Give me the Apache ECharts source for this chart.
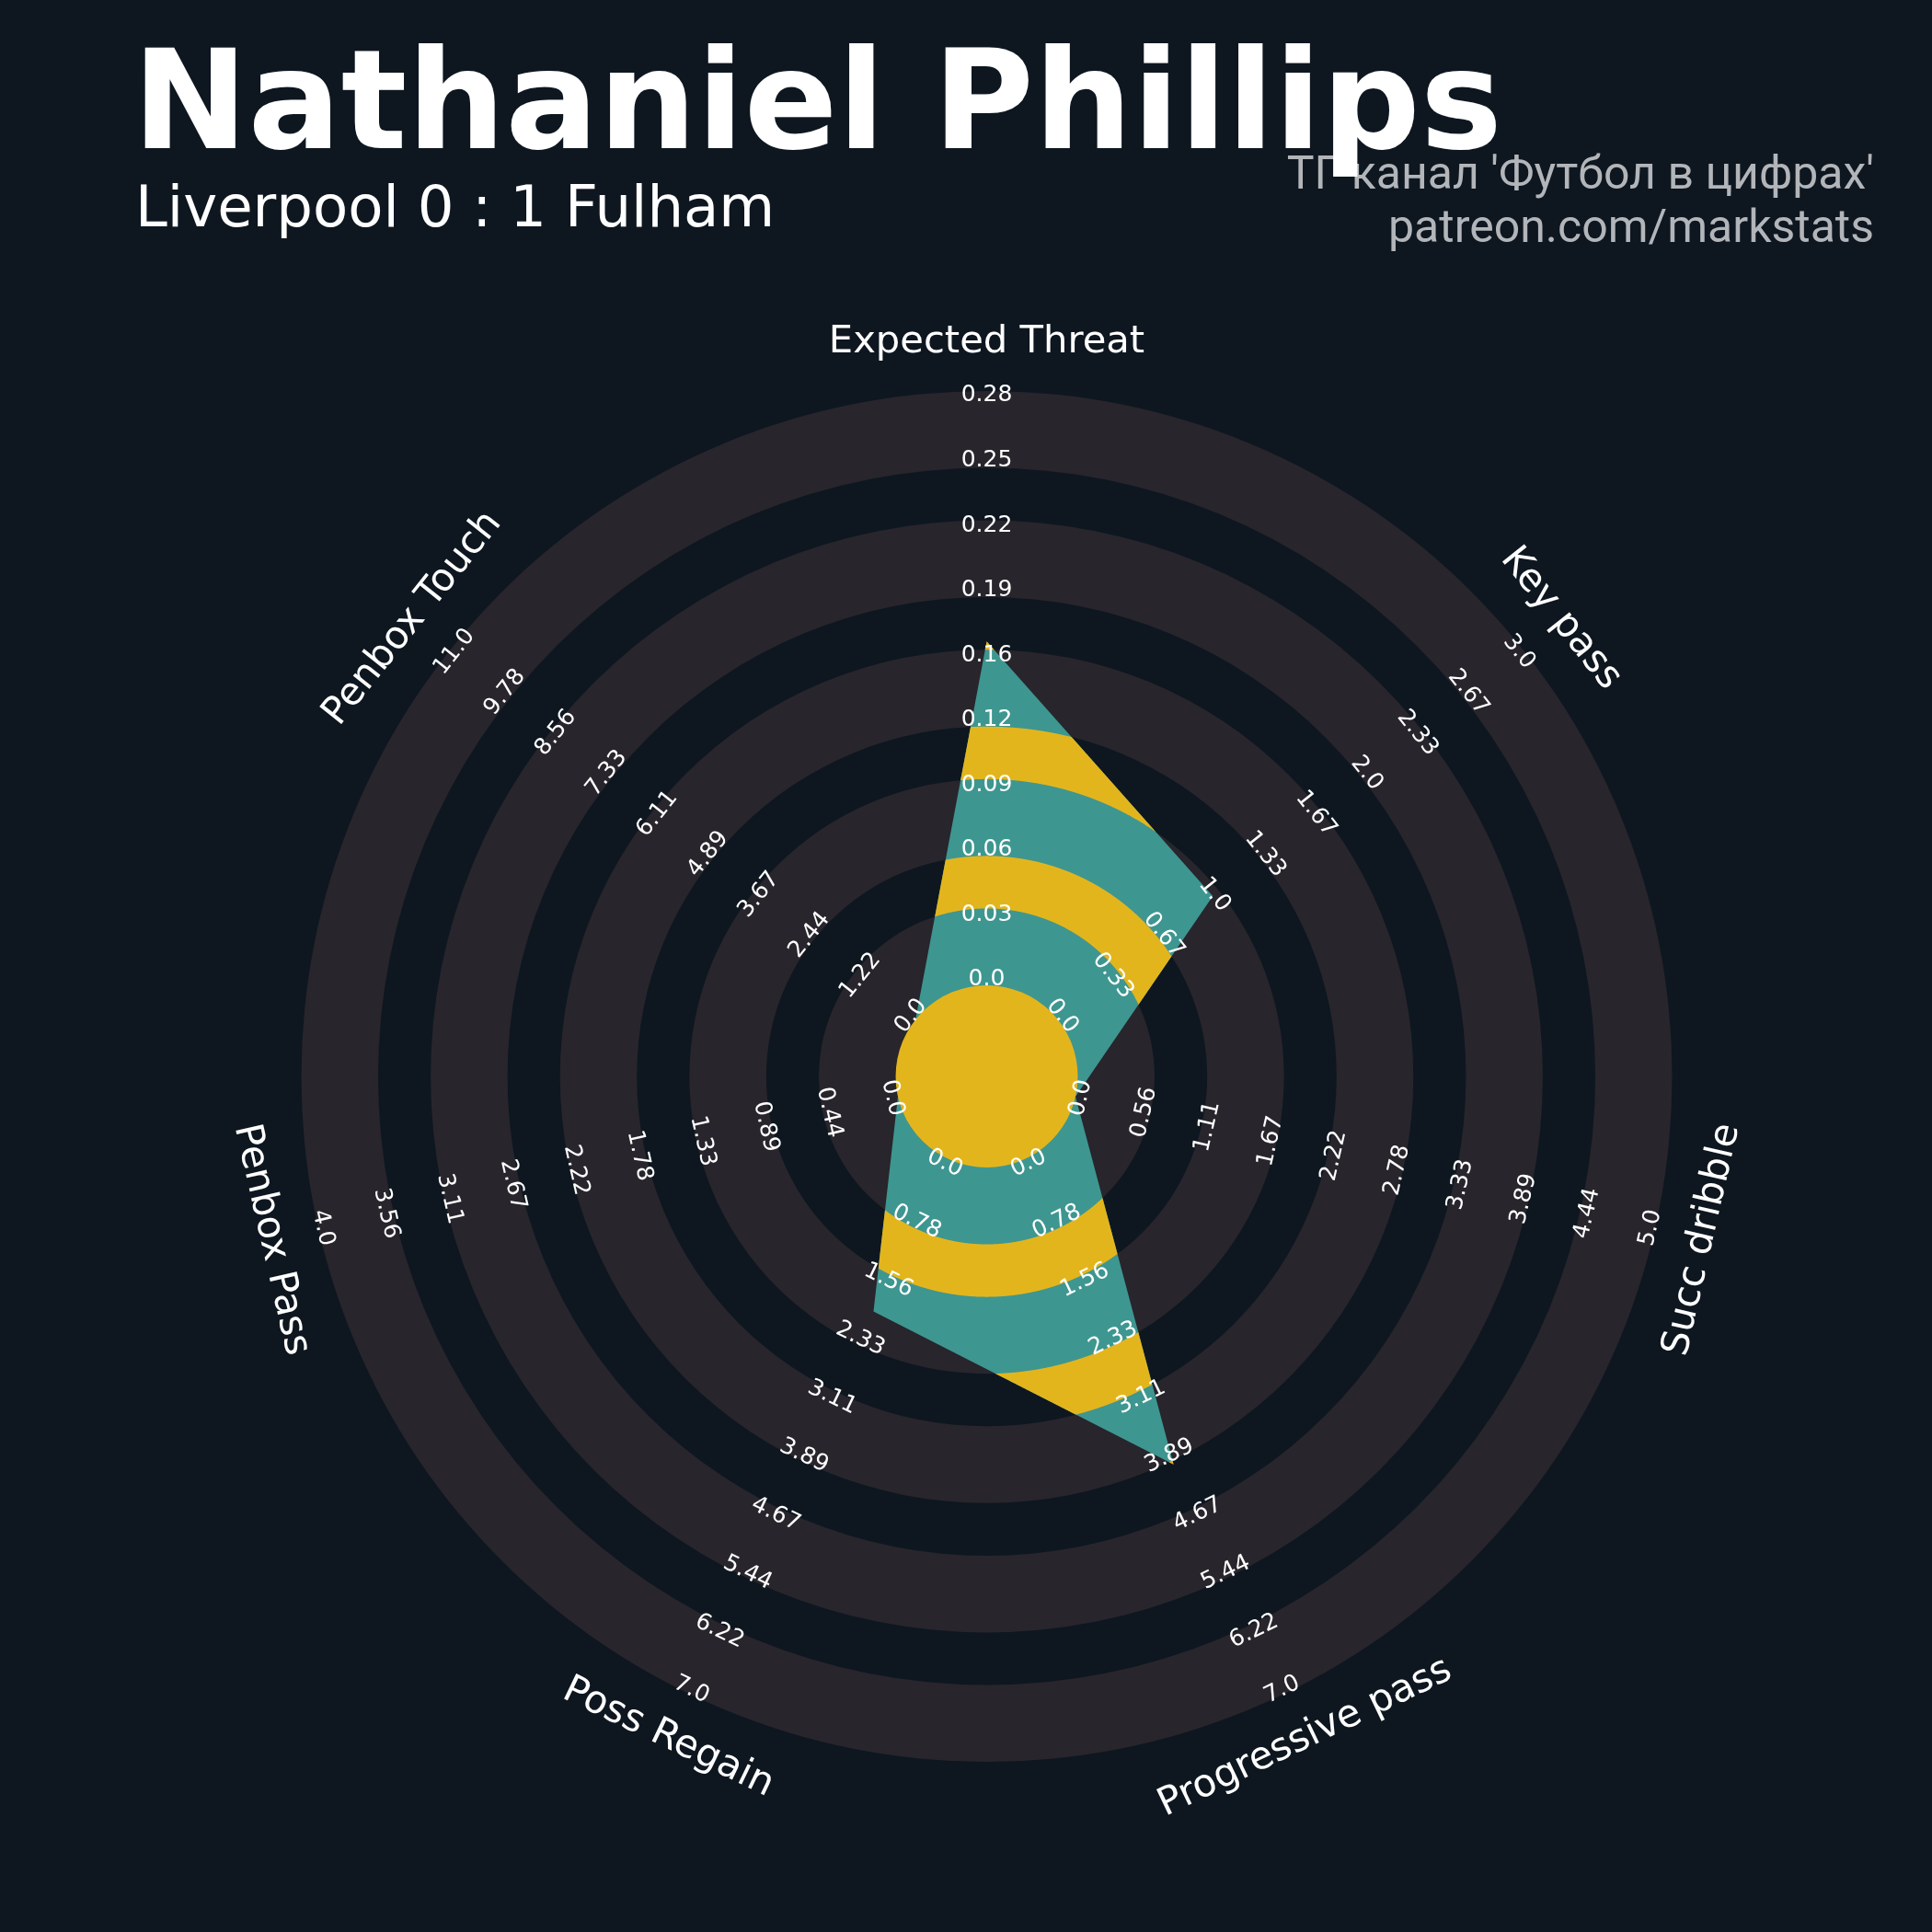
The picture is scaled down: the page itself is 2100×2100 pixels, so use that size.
<!DOCTYPE html>
<html>
<head>
<meta charset="utf-8">
<script src="https://cdn.jsdelivr.net/npm/echarts@6/dist/echarts.min.js"></script>
<style>
  html, body { margin: 0; padding: 0; background: #0e1720; }
  #chart { width: 2100px; height: 2100px; }
</style>
</head>
<body>
<div id="chart"></div>
<script>
// ---- data ----
const params = ['Expected Threat', 'Key pass', 'Succ dribble', 'Progressive pass', 'Poss Regain', 'Penbox Pass', 'Penbox Touch'];
const values = [0.162, 1.0, 0.0, 4.0, 2.0, 0.0, 0.0];
const lows = [0, 0, 0, 0, 0, 0, 0];
const highs = [0.28, 3, 5, 7, 7, 4, 11];
const tickLabels = [
  ['0.0', '0.03', '0.06', '0.09', '0.12', '0.16', '0.19', '0.22', '0.25', '0.28'],
  ['0.0', '0.33', '0.67', '1.0', '1.33', '1.67', '2.0', '2.33', '2.67', '3.0'],
  ['0.0', '0.56', '1.11', '1.67', '2.22', '2.78', '3.33', '3.89', '4.44', '5.0'],
  ['0.0', '0.78', '1.56', '2.33', '3.11', '3.89', '4.67', '5.44', '6.22', '7.0'],
  ['0.0', '0.78', '1.56', '2.33', '3.11', '3.89', '4.67', '5.44', '6.22', '7.0'],
  ['0.0', '0.44', '0.89', '1.33', '1.78', '2.22', '2.67', '3.11', '3.56', '4.0'],
  ['0.0', '1.22', '2.44', '3.67', '4.89', '6.11', '7.33', '8.56', '9.78', '11.0'],
];

// ---- layout / style ----
const BG = '#0e1720';
const RING = '#28252c';
const TEAL = '#3e9690';
const GOLD = '#e3b51d';
// dark gaps between the grey rings, on the normalised radius (0 = centre circle edge, 1 = outer edge)
const GAP_BANDS = [[0.1293, 0.2177], [0.347, 0.4354], [0.5647, 0.6531], [0.7824, 0.8708]];
const TICK_F0 = 0.0093, TICK_F1 = 0.9923;
const PARAM_F = 1.082;

// value -> 0..1 along each spoke
const radarData = values.map((v, i) => [(v - lows[i]) / (highs[i] - lows[i]), i]);

const chart = echarts.init(document.getElementById('chart'));

// keep text upright: perpendicular to the spoke, flipped when upside down
function readableRot(x, y, cx, cy) {
  const theta = Math.atan2(-(y - cy), x - cx) * 180 / Math.PI;
  let rot = theta - 90;
  rot = ((rot + 180) % 360 + 360) % 360 - 180;
  if (rot < -90) rot += 180;
  else if (rot > 90) rot -= 180;
  return rot * Math.PI / 180;
}

// radar polygon ∩ annulus [a, b], as one polygon with a hole
function bandClip(pts, cx, cy, a, b) {
  const n = pts.length, steps = 600;
  const rel = pts.map(p => [p[0] - cx, p[1] - cy]);
  const outer = [], inner = [];
  for (let i = 0; i < n; i++) {
    const p = rel[i], q = rel[(i + 1) % n];
    const d = [q[0] - p[0], q[1] - p[1]];
    const t0 = Math.atan2(p[1], p[0]);
    let dt = Math.atan2(q[1], q[0]) - t0;
    while (dt <= -Math.PI) dt += 2 * Math.PI;
    while (dt > Math.PI) dt -= 2 * Math.PI;
    for (let s = 0; s < steps; s++) {
      const t = t0 + dt * s / steps;
      const u = [Math.cos(t), Math.sin(t)];
      const rho = (p[0] * d[1] - p[1] * d[0]) / (u[0] * d[1] - u[1] * d[0]);
      const r = Math.min(b, Math.max(a, rho));
      outer.push([cx + r * u[0], cy + r * u[1]]);
      inner.push([cx + a * u[0], cy + a * u[1]]);
    }
  }
  outer.push(outer[0]);
  inner.push(inner[0]);
  return outer.concat(inner.reverse());
}

function renderRadar(p, api) {
  const cx = p.coordSys.cx, cy = p.coordSys.cy;
  const radiusOf = f => {
    const c = api.coord([f, 0]);
    return Math.hypot(c[0] - cx, c[1] - cy);
  };
  const children = [];

  // rings
  children.push({ type: 'ring', shape: { cx, cy, r: radiusOf(1), r0: radiusOf(0) }, style: { fill: RING } });
  GAP_BANDS.forEach(b => {
    children.push({ type: 'ring', shape: { cx, cy, r: radiusOf(b[1]), r0: radiusOf(b[0]) }, style: { fill: BG } });
  });

  // radar polygon
  const pts = radarData.map(d => api.coord(d).slice(0, 2));
  children.push({ type: 'polygon', shape: { points: pts }, style: { fill: TEAL } });
  GAP_BANDS.forEach(b => {
    children.push({
      type: 'polygon',
      shape: { points: bandClip(pts, cx, cy, radiusOf(b[0]), radiusOf(b[1])) },
      style: { fill: GOLD }
    });
  });
  children.push({ type: 'circle', shape: { cx, cy, r: radiusOf(0) }, style: { fill: GOLD } });

  // ring labels
  tickLabels.forEach((labels, i) => {
    labels.forEach((txt, k) => {
      const c = api.coord([TICK_F0 + k * (TICK_F1 - TICK_F0) / (labels.length - 1), i]);
      children.push({
        type: 'text', x: c[0], y: c[1], rotation: readableRot(c[0], c[1], cx, cy),
        style: { text: txt, fill: '#ffffff', fontSize: 25, fontFamily: 'DejaVu Sans', align: 'center', verticalAlign: 'middle' }
      });
    });
  });

  // parameter names
  params.forEach((name, i) => {
    const c = api.coord([PARAM_F, i]);
    children.push({
      type: 'text', x: c[0], y: c[1], rotation: readableRot(c[0], c[1], cx, cy),
      style: { text: name, fill: '#ffffff', fontSize: 41.7, fontFamily: 'DejaVu Sans', align: 'center', verticalAlign: 'middle' }
    });
  });

  return { type: 'group', children };
}

const option = {
  backgroundColor: BG,
  animation: false,
  polar: { center: [1072.5, 1170], radius: [99, 745] },
  angleAxis: {
    type: 'value', min: 0, max: params.length, startAngle: 90, clockwise: true,
    axisLine: { show: false }, axisTick: { show: false }, axisLabel: { show: false }, splitLine: { show: false }
  },
  radiusAxis: {
    type: 'value', min: 0, max: 1,
    axisLine: { show: false }, axisTick: { show: false }, axisLabel: { show: false }, splitLine: { show: false }
  },
  graphic: [
    {
      type: 'text', x: 2037, y: 192, z: 1,
      style: { text: "ТГ канал 'Футбол в цифрах'", fill: '#b2b5b9', font: '50px Roboto', align: 'right', verticalAlign: 'middle' }
    },
    {
      type: 'text', x: 2037, y: 250, z: 1,
      style: { text: 'patreon.com/markstats', fill: '#b2b5b9', font: '50px Roboto', align: 'right', verticalAlign: 'middle' }
    },
    {
      type: 'text', x: 144, y: 122, z: 2,
      style: { text: 'Nathaniel Phillips', fill: '#ffffff', font: 'bold 150px "DejaVu Sans"', align: 'left', verticalAlign: 'middle' }
    },
    {
      type: 'text', x: 147, y: 230, z: 2,
      style: { text: 'Liverpool 0 : 1 Fulham', fill: '#ffffff', font: '62.5px "DejaVu Sans"', align: 'left', verticalAlign: 'middle' }
    }
  ],
  series: [{
    type: 'custom',
    coordinateSystem: 'polar',
    clip: false,
    silent: true,
    data: [[0, 0]],
    renderItem: renderRadar
  }]
};

chart.setOption(option);
</script>
</body>
</html>
